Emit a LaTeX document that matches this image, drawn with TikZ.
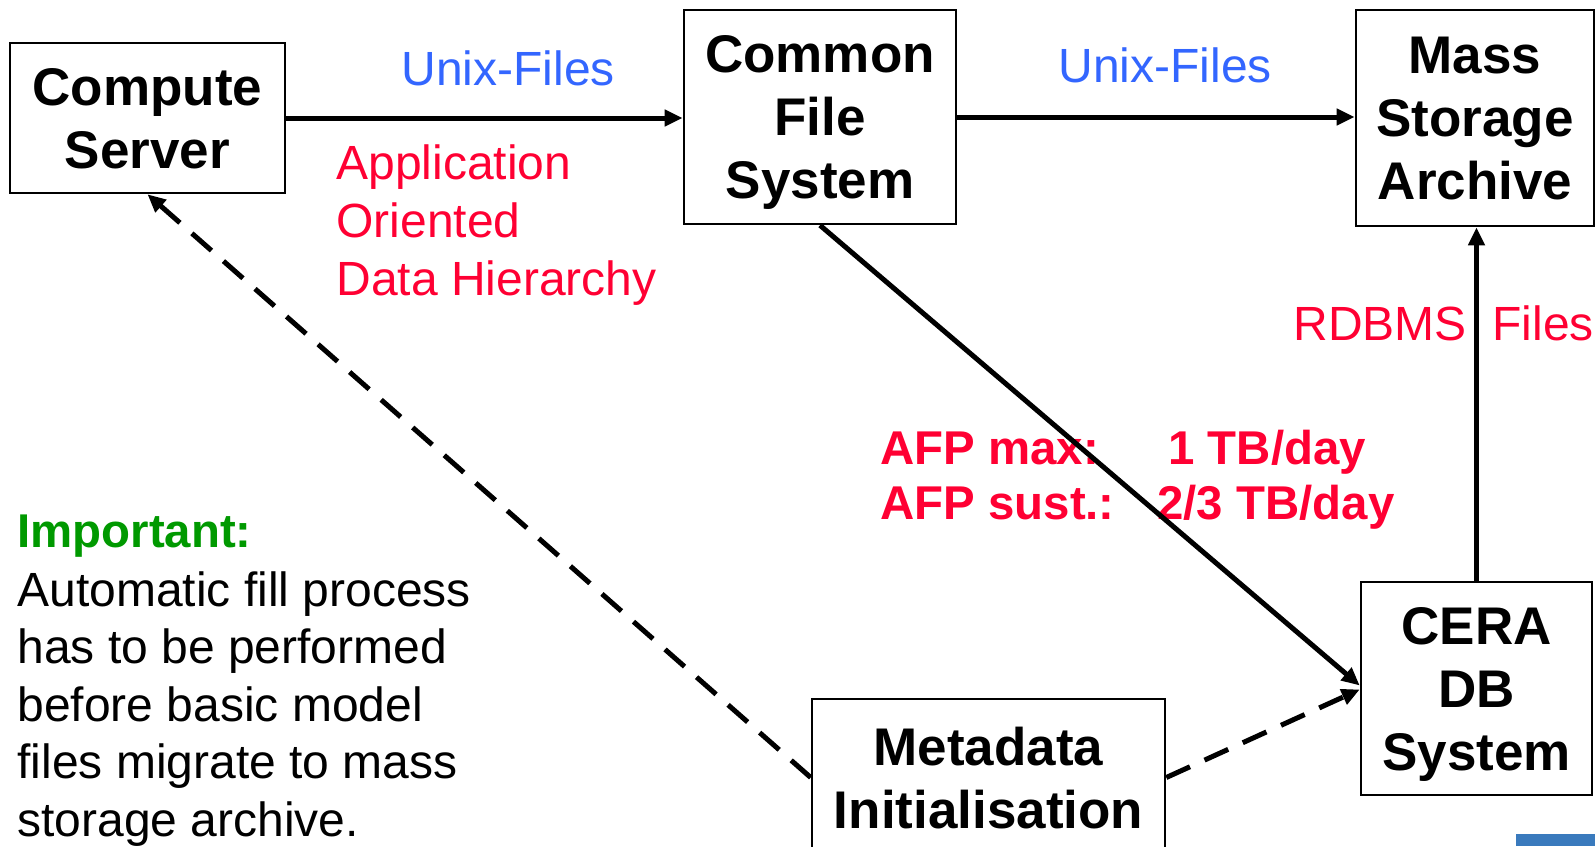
\documentclass[tikz,border=0pt]{standalone}
\usepackage{fontspec}
\setmainfont{Liberation Sans}
\usetikzlibrary{arrows.meta}
\definecolor{ublue}{RGB}{51,102,255}
\definecolor{ured}{RGB}{255,0,51}
\definecolor{ugreen}{RGB}{0,153,0}
\definecolor{cornerblue}{RGB}{58,122,189}
\begin{document}
\begin{tikzpicture}[x=0.5pt,y=-0.5pt,
  box/.style={draw=black, line width=1.3pt, align=center, inner sep=0pt, text depth=0pt,
    font=\bfseries\fontsize{26.5}{31.5}\selectfont},
  flow/.style={line width=2.5pt, -{Triangle[length=9pt,width=8pt]}},
  dflow/.style={flow, dash pattern=on 13pt off 8pt},
  lab/.style={anchor=base west, inner sep=0pt, font=\fontsize{24}{29}\selectfont},
  labb/.style={anchor=base west, inner sep=0pt, font=\bfseries\fontsize{23.7}{28}\selectfont}]
\useasboundingbox (0,0) rectangle (1595,846);
\clip (0,0) rectangle (1595,846);
\fill[white] (0,0) rectangle (1595,846);

% boxes
\node[box, minimum width=137.5pt, minimum height=75pt] (cs) at (147.5,118) {Compute\\Server};
\node[box, minimum width=136pt, minimum height=107pt] (cfs) at (820,117) {Common\\File\\System};
\node[box, minimum width=119pt, minimum height=108pt] (msa) at (1475,118) {Mass\\Storage\\Archive};
\node[box, minimum width=115.5pt, minimum height=106.5pt] (cera) at (1476.5,688.5) {CERA\\DB\\System};
\node[box, minimum width=176.5pt, minimum height=78.5pt] (md) at (988.5,777.5) {Metadata\\Initialisation};

% texts
\node[lab, text=ublue] (u1) at (401,85.5) {Unix-Files};
\node[lab, text=ublue] (u2) at (1058,82.5) {Unix-Files};
\node[lab, text=ured] (a1) at (336,179) {Application};
\node[lab, text=ured] (a2) at (336,237) {Oriented};
\node[lab, text=ured] (a3) at (336,295) {Data Hierarchy};
\node[lab, text=ured] (r1) at (1293,340) {RDBMS};
\node[lab, text=ured] (r2) at (1492,340) {Files};
\node[labb, text=ured] (f1) at (880,464) {AFP max:};
\node[labb, text=ured] (f2) at (1168,464) {1 TB/day};
\node[labb, text=ured] (f3) at (880,519) {AFP sust.:};
\node[labb, text=ured] (f4) at (1157,519) {2/3 TB/day};
\node[labb, text=ugreen] (imp) at (17,547) {Important:};
\node[lab] (t1) at (17,606) {Automatic fill process};
\node[lab] (t2) at (17,663.5) {has to be performed};
\node[lab] (t3) at (17,721) {before basic model};
\node[lab] (t4) at (17,778.5) {files migrate to mass};
\node[lab] (t5) at (17,836) {storage archive.};

% connectors
\draw[flow] (cs.east) -- (cs.east -| cfs.west);
\draw[flow] (cfs.east) -- (cfs.east -| msa.west);
\draw[flow] (cfs.south) -- ([yshift=1.5pt]cera.west);
\draw[flow] (cera.north) -- (cera.north |- msa.south);
\draw[dflow] (md.west) -- (cs.south);
\draw[dflow] (md.east) -- ([yshift=-0.5pt]cera.west);

\fill[cornerblue] (1516,834) rectangle (1595,846);
\end{tikzpicture}
\end{document}
